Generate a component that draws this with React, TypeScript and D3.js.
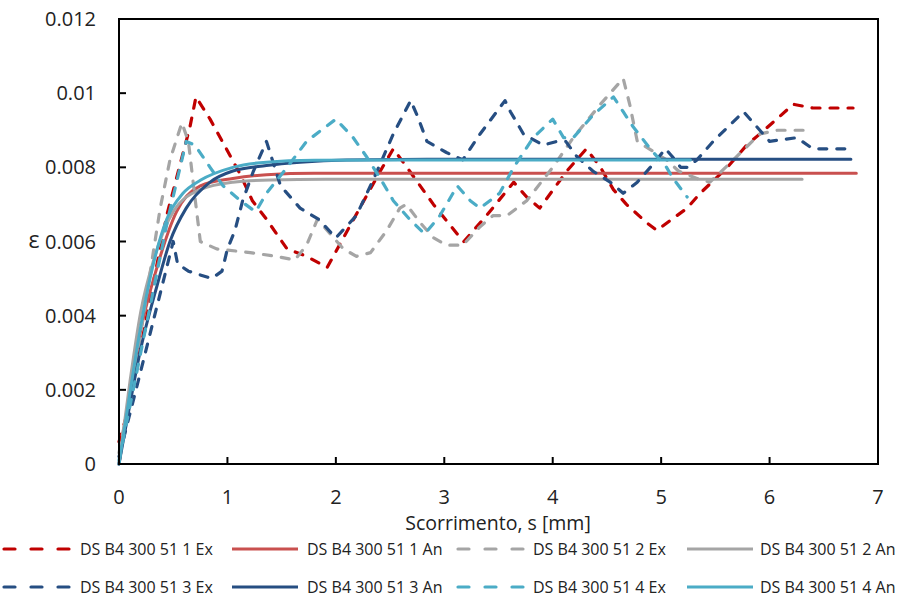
import React from "react";
import * as d3 from "d3";

const xTicks = [0, 1, 2, 3, 4, 5, 6, 7];
const yTicks = [0, 0.002, 0.004, 0.006, 0.008, 0.01, 0.012];
const yTickLabels = ["0", "0.002", "0.004", "0.006", "0.008", "0.01", "0.012"];

// Series 1 Ex (red dashed)
const s1ExX = [0, 0.1, 0.27, 0.44, 0.655, 0.71, 0.84, 0.99, 1.12, 1.23, 1.36, 1.55, 1.73, 1.92, 2.22, 2.41, 2.53, 2.68, 2.9, 3.12, 3.18, 3.39, 3.64, 3.76, 3.88, 4.13, 4.31, 4.44, 4.56, 4.68, 4.87, 4.96, 5.24, 5.36, 5.61, 5.79, 5.91, 6.22, 6.4, 6.77];
const s1ExY = [0.0006, 0.0016, 0.0042, 0.0067, 0.0091, 0.0099, 0.0093, 0.0085, 0.0078, 0.0071, 0.0066, 0.0058, 0.0056, 0.0053, 0.0069, 0.0079, 0.0085, 0.0079, 0.0070, 0.0062, 0.0060, 0.0067, 0.0076, 0.0072, 0.0069, 0.0079, 0.0085, 0.0080, 0.0074, 0.0070, 0.0065, 0.0063, 0.0069, 0.0073, 0.0080, 0.0086, 0.0089, 0.0097, 0.0096, 0.0096];

// Series 2 Ex (grey dashed)
const s2ExX = [0, 0.15, 0.38, 0.47, 0.58, 0.64, 0.7, 0.75, 0.9, 1.21, 1.45, 1.62, 1.73, 1.83, 1.95, 2.07, 2.19, 2.32, 2.47, 2.59, 2.65, 2.78, 2.9, 3.02, 3.17, 3.33, 3.45, 3.58, 3.76, 4.0, 4.19, 4.44, 4.65, 4.71, 4.78, 5.05, 5.16, 5.33, 5.45, 5.63, 5.91, 6.07, 6.31];
const s2ExY = [0.0003, 0.0026, 0.0069, 0.0082, 0.0092, 0.0087, 0.0072, 0.006, 0.0058, 0.0057, 0.0056, 0.0055, 0.0059, 0.0066, 0.0062, 0.0058, 0.0056, 0.0057, 0.0063, 0.0069, 0.007, 0.0065, 0.0061, 0.0059, 0.0059, 0.0064, 0.0067, 0.0067, 0.0071, 0.008, 0.0088, 0.0097, 0.0104, 0.0097, 0.0087, 0.0082, 0.0079, 0.0077, 0.0076, 0.0081, 0.0089, 0.009, 0.009];

// Series 3 Ex (dark blue dashed)
const s3ExX = [0, 0.2, 0.5, 0.54, 0.64, 0.855, 0.95, 1.0, 1.07, 1.14, 1.24, 1.36, 1.49, 1.67, 1.84, 2.0, 2.19, 2.35, 2.53, 2.69, 2.75, 2.84, 3.02, 3.17, 3.33, 3.56, 3.61, 3.73, 3.91, 4.04, 4.12, 4.22, 4.37, 4.53, 4.65, 4.78, 4.9, 5.04, 5.1, 5.18, 5.24, 5.33, 5.48, 5.76, 5.88, 6.0, 6.25, 6.4, 6.71];
const s3ExY = [0.0002, 0.0025, 0.006, 0.0054, 0.0052, 0.005, 0.0052, 0.0058, 0.0063, 0.0071, 0.0079, 0.0087, 0.0075, 0.0069, 0.0066, 0.0061, 0.0067, 0.0077, 0.0089, 0.0098, 0.0094, 0.0087, 0.0084, 0.0082, 0.0089, 0.0098, 0.0095, 0.0089, 0.0086, 0.0087, 0.0087, 0.0083, 0.0079, 0.0076, 0.0073, 0.0076, 0.008, 0.0085, 0.0083, 0.008, 0.008, 0.0082, 0.0087, 0.0095, 0.0091, 0.0087, 0.0088, 0.0085, 0.0085];

// Series 4 Ex (light blue dashed)
const s4ExX = [0, 0.2, 0.45, 0.62, 0.7, 0.84, 0.96, 1.12, 1.26, 1.36, 1.55, 1.73, 2.0, 2.16, 2.28, 2.41, 2.53, 2.68, 2.82, 2.96, 3.12, 3.24, 3.33, 3.51, 3.64, 3.82, 4.0, 4.1, 4.19, 4.37, 4.56, 4.65, 4.74, 4.9, 5.05, 5.11, 5.24];
const s4ExY = [0.0001, 0.003, 0.0066, 0.0087, 0.0086, 0.008, 0.0075, 0.0071, 0.0068, 0.0073, 0.008, 0.0087, 0.0093, 0.0088, 0.0083, 0.0077, 0.0071, 0.0066, 0.0062, 0.0067, 0.0075, 0.0071, 0.0069, 0.0073, 0.008, 0.0088, 0.0093, 0.0088, 0.0088, 0.0094, 0.0099, 0.0095, 0.0091, 0.0085, 0.008, 0.0077, 0.0072];

// Analytical curves
const s1AnX = [0, 0.1, 0.2, 0.35, 0.53, 0.75, 1.05, 1.36, 1.8, 2.5, 4, 5.5, 6.8];
const s1AnY = [0, 0.0019, 0.0036, 0.0053, 0.0068, 0.0075, 0.0077, 0.0078, 0.00784, 0.00784, 0.00784, 0.00784, 0.00784];
const s2AnX = [0, 0.1, 0.2, 0.32, 0.5, 0.75, 1.05, 1.4, 1.9, 2.5, 4, 5.5, 6.3];
const s2AnY = [0, 0.0022, 0.0041, 0.0055, 0.0068, 0.0074, 0.0076, 0.00766, 0.00768, 0.00768, 0.00768, 0.00768, 0.00768];
const s3AnX = [0, 0.1, 0.2, 0.35, 0.47, 0.62, 0.84, 1.05, 1.36, 1.67, 2.1, 3, 4.5, 6, 6.75];
const s3AnY = [0, 0.0016, 0.0031, 0.0048, 0.006, 0.0069, 0.0076, 0.0079, 0.00805, 0.00814, 0.0082, 0.00822, 0.00822, 0.00822, 0.00822];
const s4AnX = [0, 0.1, 0.2, 0.286, 0.44, 0.59, 0.75, 1.05, 1.36, 1.8, 2.5, 4, 5.27];
const s4AnY = [0, 0.0019, 0.0037, 0.005, 0.0066, 0.0073, 0.00765, 0.008, 0.00814, 0.00819, 0.0082, 0.0082, 0.0082];

const seriesNames = [
  "DS B4 300 51 1 Ex", "DS B4 300 51 1 An", "DS B4 300 51 2 Ex", "DS B4 300 51 2 An",
  "DS B4 300 51 3 Ex", "DS B4 300 51 3 An", "DS B4 300 51 4 Ex", "DS B4 300 51 4 An",
];
const seriesColors = ["#C00000", "#C9504F", "#A5A5A5", "#A5A5A5", "#264E82", "#264E82", "#4BACC6", "#4BACC6"];
const seriesDashed = [true, false, true, false, true, false, true, false];
const seriesXs = [s1ExX, s1AnX, s2ExX, s2AnX, s3ExX, s3AnX, s4ExX, s4AnX];
const seriesYs = [s1ExY, s1AnY, s2ExY, s2AnY, s3ExY, s3AnY, s4ExY, s4AnY];

const W = 903, H = 599;
const L = 119, T = 19, R = 878, B = 464;
const FONT = "'Open Sans', 'Liberation Sans', sans-serif";

export default function App() {
  const x = d3.scaleLinear().domain([0, 7]).range([L, R]);
  const y = d3.scaleLinear().domain([0, 0.012]).range([B, T]);
  const lineEx = d3.line<[number, number]>().x(d => x(d[0])).y(d => y(d[1])).curve(d3.curveLinear);
  const lineAn = d3.line<[number, number]>().x(d => x(d[0])).y(d => y(d[1])).curve(d3.curveMonotoneX);

  const order = [0, 1, 2, 3, 4, 5, 6, 7];

  const legendRows = [549, 587];
  const legendCols = [
    { lx: 3, tx: 80 },
    { lx: 231, tx: 307 },
    { lx: 457, tx: 533 },
    { lx: 686, tx: 760 },
  ];

  return (
    <svg width={W} height={H} style={{ position: "absolute", left: 0, top: 0, background: "#fff" }} fontFamily={FONT}>
      <rect x={0} y={0} width={W} height={H} fill="#fff" />
      {order.map(i => {
        const pts: [number, number][] = seriesXs[i].map((v, k) => [v, seriesYs[i][k]]);
        const d = seriesDashed[i] ? lineEx(pts) : lineAn(pts);
        return (
          <path key={i} d={d || ""} fill="none" stroke={seriesColors[i]}
            strokeWidth={seriesDashed[i] ? 3.2 : 3}
            strokeDasharray={seriesDashed[i] ? "8 10" : undefined}
            strokeLinecap="round"
            strokeLinejoin="round" />
        );
      })}
      <rect x={L} y={T} width={R - L} height={B - T} fill="none" stroke="#000" strokeWidth={2} />
      {yTicks.map((t, i) => (
        <g key={"y" + i}>
          <line x1={L} x2={L + 7} y1={y(t)} y2={y(t)} stroke="#000" strokeWidth={2} />
          <text x={96} y={y(t) + 7} textAnchor="end" fontSize={20} fill="#222">{yTickLabels[i]}</text>
        </g>
      ))}
      {xTicks.map((t, i) => (
        <g key={"x" + i}>
          <line x1={x(t)} x2={x(t)} y1={B} y2={B - 7} stroke="#000" strokeWidth={2} />
          <text x={x(t)} y={504} textAnchor="middle" fontSize={20} fill="#222">{t}</text>
        </g>
      ))}
      <text x={498} y={530} textAnchor="middle" fontSize={19.5} fill="#222">Scorrimento, s [mm]</text>
      <text x={34} y={248} textAnchor="middle" fontSize={23} fill="#222">ε</text>
      {seriesNames.map((name, i) => {
        const row = Math.floor(i / 4);
        const col = i % 4;
        const ly = legendRows[row];
        const c = legendCols[col];
        return (
          <g key={"l" + i}>
            <line x1={c.lx + 1} x2={c.lx + 67} y1={ly} y2={ly} stroke={seriesColors[i]} strokeWidth={3.2}
              strokeDasharray={seriesDashed[i] ? "11 16" : undefined} strokeLinecap={seriesDashed[i] ? "round" : "butt"} />
            <text x={c.tx} y={ly + 5.5} fontSize={16} fill="#222">{name}</text>
          </g>
        );
      })}
    </svg>
  );
}
